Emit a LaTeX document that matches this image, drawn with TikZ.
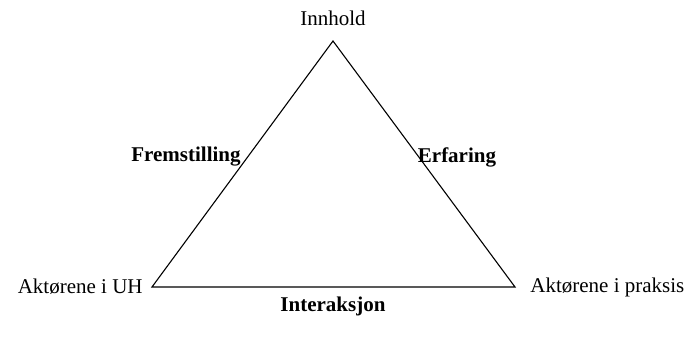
\documentclass[tikz,border=0pt]{standalone}
\usepackage{fontspec}
\setmainfont{Liberation Serif}
\begin{document}
\begin{tikzpicture}[x=0.5pt,y=-0.5pt,
  lbl/.style={inner sep=0pt,font=\fontsize{10.5}{12}\selectfont},
  blbl/.style={lbl,font=\fontsize{10.5}{12}\selectfont\bfseries},
  edge/.style={draw=black,line width=0.55pt}]
\useasboundingbox (0,0) rectangle (687,341);
\coordinate (A) at (333,41);
\coordinate (B) at (152,287);
\coordinate (C) at (515,287);
\draw[edge] (A) -- (B) -- (C) -- cycle;
\node[lbl] (inn) at (333,18) {Innhold};
\node[lbl,anchor=east] (uh) at (143,287) {Aktørene i UH};
\node[lbl,anchor=west] (pr) at (530,287) {Aktørene i praksis};
\node[blbl] (fr) at (186,157) {Fremstilling};
\node[blbl] (er) at (457,157) {Erfaring};
\node[blbl] (ia) at (333,306) {Interaksjon};
\end{tikzpicture}
\end{document}
